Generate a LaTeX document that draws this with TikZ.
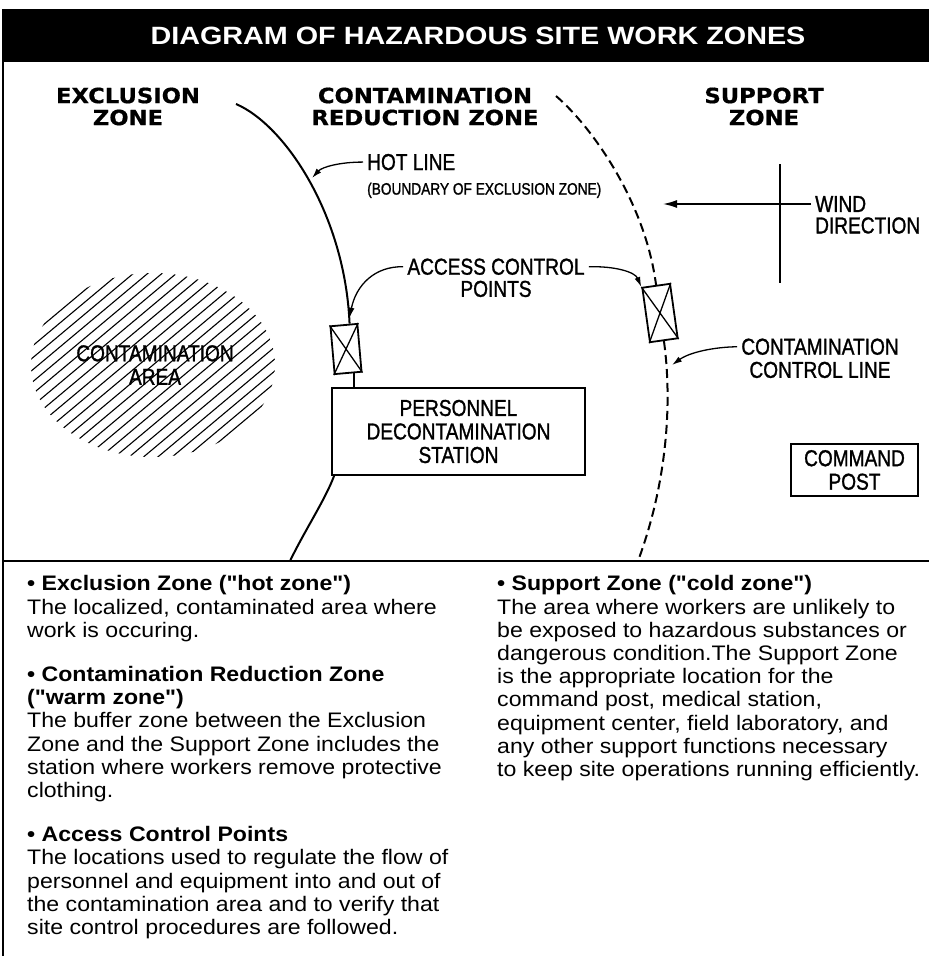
\documentclass[tikz,border=0pt]{standalone}
\usepackage{fontspec}
\setmainfont{Liberation Sans}
\newfontfamily\titlefont[FakeStretch=1.15]{Liberation Sans}
\newfontfamily\zonefont[FakeStretch=1.08,FakeBold=0.6]{DejaVu Sans}
\newfontfamily\callfont[FakeStretch=0.83,FakeBold=1.2]{Liberation Sans}
\newfontfamily\bodyfont[FakeStretch=1.1]{Liberation Sans}
\usetikzlibrary{arrows.meta,positioning,calc}

\begin{document}
\begin{tikzpicture}[x=1pt,y=-1pt,
  zonelbl/.style={font=\zonefont\bfseries\fontsize{21}{22}\selectfont,align=center,inner sep=0pt},
  calllbl/.style={font=\callfont\fontsize{23}{23}\selectfont,inner xsep=4pt,inner ysep=0pt},
  boxlbl/.style={draw,line width=1.8pt,font=\callfont\fontsize{23}{23.5}\selectfont,align=center,inner sep=0pt},
  acpbox/.style={draw,line width=1.8pt,minimum width=27pt,minimum height=48pt,inner sep=0pt},
  callarrow/.style={line width=1.3pt,-{Latex[length=10pt,width=6pt]}},
  windarrow/.style={line width=1.5pt,-{Latex[length=14pt,width=8pt]}},
  hotline/.style={line width=2pt},
  ctrlline/.style={line width=2pt,dash pattern=on 9pt off 5pt},
  hatchline/.style={line width=1.1pt},
  bodytxt/.style={font=\bodyfont\fontsize{21}{23.2}\selectfont,align=left,inner sep=0pt,anchor=north west}]

\useasboundingbox (0,0) rectangle (929,956);

% frame and title
\fill (3,9) rectangle (929,62);
\node[font=\titlefont\bfseries\fontsize{25}{25}\selectfont,text=white] (title) at (478,36) {DIAGRAM OF HAZARDOUS SITE WORK ZONES};
\draw[line width=2pt] (3,9) -- (3,956);
\draw[line width=2.2pt] (3,561) -- (929,561);

% zones
\node[zonelbl] (excl) at (128,106.5) {EXCLUSION\\ZONE};
\node[zonelbl] (crz) at (425,106.5) {CONTAMINATION\\REDUCTION ZONE};
\node[zonelbl] (supp) at (764,106.5) {SUPPORT\\ZONE};

% contamination area
\begin{scope}
  \clip (153,365) ellipse [x radius=122,y radius=92];
  \foreach \k in {-264,-252,...,264}
    \draw[hatchline] ($(153,365)+(0,\k)$) ++(-160,134) -- ++(320,-268);
\end{scope}
\node[boxlbl,draw=none] (carea) at (155,365) {CONTAMINATION\\AREA};

% stations
\node[boxlbl,minimum width=253pt,minimum height=87pt] (station) at (458.5,431.5) {PERSONNEL\\DECONTAMINATION\\STATION};
\node[boxlbl,minimum width=127pt,minimum height=52pt] (cmd) at (854.5,470) {COMMAND\\POST};

% access control points
\node[acpbox,rotate=5] (lacp) at (346,349) {};
\node[acpbox,rotate=8,minimum width=28pt,minimum height=55pt] (racp) at (660,313) {};
\draw[line width=1.3pt] (lacp.north west) -- (lacp.south east) (lacp.north east) -- (lacp.south west);
\draw[line width=1.3pt] (racp.north west) -- (racp.south east) (racp.north east) -- (racp.south west);

% hot line
\coordinate (hottop) at (236,104);
\coordinate (hotbot) at (290,561);
\coordinate (lacptop) at ($(lacp.north)!.4!(lacp.north east)$);
\coordinate (lacpbot) at ($(lacp.south)!.4!(lacp.south east)$);
\draw[hotline] (hottop) .. controls (285,125) and (345,215) .. (lacptop);
\draw[hotline] (lacpbot) -- (lacpbot |- station.north);
\draw[hotline] ($(station.south west)+(3,0)$) .. controls (325,500) and (305,530) .. (hotbot);

% contamination control line
\coordinate (ctop) at (556,96);
\coordinate (cbot) at (638,561);
\draw[ctrlline] (ctop) .. controls (590,125) and (645,200) .. (racp.north);
\draw[ctrlline] (racp.south) .. controls (672,400) and (668,480) .. (cbot);

% labels with arrows
\node[calllbl,anchor=base west] (hotlbl) at (363,170) {HOT LINE};
\node[calllbl,font=\callfont\fontsize{16.5}{17}\selectfont,below right=12pt and 0pt of hotlbl.south west] (bndlbl) {(BOUNDARY OF EXCLUSION ZONE)};
\coordinate (hotpt) at (312,178);
\draw[callarrow] (hotlbl.west) .. controls (340,162) and (322,167) .. (hotpt);

\node[calllbl] (acc) at (496,266.75) {ACCESS CONTROL};
\node[calllbl,below=5.5pt of acc] (pts) {POINTS};
\coordinate (lacptip) at ($(lacptop)+(0,-6)$);
\draw[callarrow] (acc.west) .. controls (375,266) and (356,285) .. (lacptip);
\draw[callarrow] (acc.east) .. controls (615,266) and (635,272) .. (racp.north west);

\node[calllbl] (ccl) at (820,346.75) {CONTAMINATION};
\node[calllbl,below=6.5pt of ccl] (ccl2) {CONTROL LINE};
\coordinate (cclpt) at (672,365);
\draw[callarrow] (ccl.west) .. controls (715,347) and (690,352) .. (cclpt);

% wind
\node[calllbl,anchor=west] (wind) at (811,204) {WIND};
\node[calllbl,below right=5pt and 0pt of wind.south west] (winddir) {DIRECTION};
\coordinate (windtip) at (663,204);
\coordinate (vtop) at (780,164);
\coordinate (vbot) at (780,283);
\draw[windarrow] (wind.west) -- (windtip);
\draw[line width=1.5pt] (vtop) -- (vbot);

% notes
\node[bodytxt] (exdesc) at (27,575.5) {\textbf{\textbullet\ Exclusion Zone ("hot zone")}\\
The localized, contaminated area where\\
work is occuring.\\[21pt]
\textbf{\textbullet\ Contamination Reduction Zone}\\
\textbf{("warm zone")}\\
The buffer zone between the Exclusion\\
Zone and the Support Zone includes the\\
station where workers remove protective\\
clothing.\\[21pt]
\textbf{\textbullet\ Access Control Points}\\
The locations used to regulate the flow of\\
personnel and equipment into and out of\\
the contamination area and to verify that\\
site control procedures are followed.};
\node[bodytxt] (szdesc) at (497,575.5) {\textbf{\textbullet\ Support Zone ("cold zone")}\\
The area where workers are unlikely to\\
be exposed to hazardous substances or\\
dangerous condition.The Support Zone\\
is the appropriate location for the\\
command post, medical station,\\
equipment center, field laboratory, and\\
any other support functions necessary\\
to keep site operations running efficiently.};
\end{tikzpicture}
\end{document}
